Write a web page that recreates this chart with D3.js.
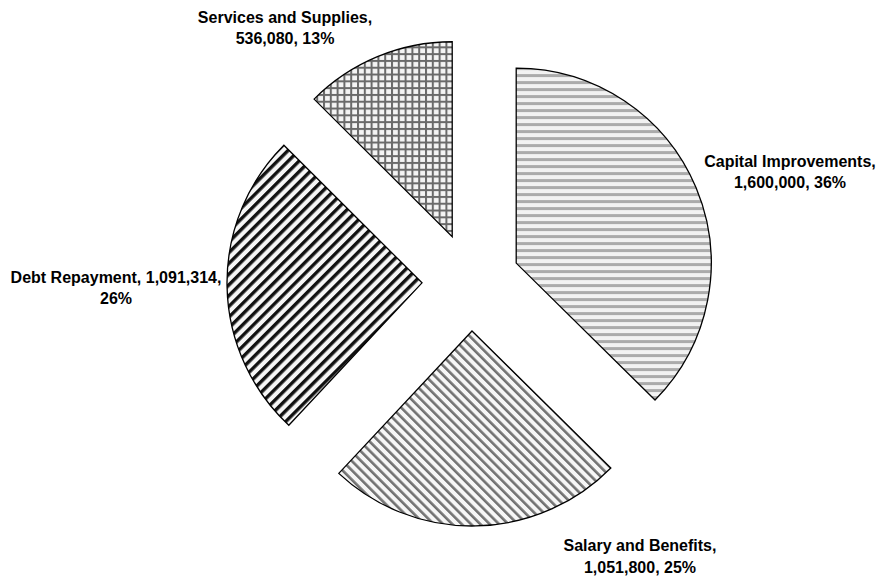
<!DOCTYPE html>
<html><head><meta charset="utf-8">
<script src="https://cdn.jsdelivr.net/npm/d3@7"></script>
<style>html,body{margin:0;padding:0;background:#fff;}svg{display:block;}</style>
</head><body>
<svg id="chart" width="876" height="578"></svg>
<script>
const categories = ["Capital Improvements", "Salary and Benefits", "Debt Repayment", "Services and Supplies"];
const values = [1600000, 1051800, 1091314, 536080];
const percentLabels = ["36%", "25%", "26%", "13%"];
const labelLines = [
  ["Capital Improvements,", "1,600,000, 36%"],
  ["Salary and Benefits,", "1,051,800, 25%"],
  ["Debt Repayment, 1,091,314,", "26%"],
  ["Services and Supplies,", "536,080, 13%"]
];
const patternIds = ["pHoriz", "pDiagGray", "pDiagBlack", "pGrid"];
const labelPos = [[790, 166.5], [640, 551], [116, 282.5], [285, 22.5]];

const svg = d3.select("#chart");
const defs = svg.append("defs");

// horizontal light gray stripes
let p = defs.append("pattern").attr("id","pHoriz").attr("patternUnits","userSpaceOnUse").attr("width",7).attr("height",7);
p.append("rect").attr("width",7).attr("height",7).attr("fill","#f2f2f2");
p.append("rect").attr("y",0).attr("width",7).attr("height",3).attr("fill","#ababab");

// diagonal gray stripes "\"
p = defs.append("pattern").attr("id","pDiagGray").attr("patternUnits","userSpaceOnUse").attr("width",6.6).attr("height",6.6).attr("patternTransform","rotate(-45)");
p.append("rect").attr("width",6.6).attr("height",6.6).attr("fill","#f6f6f6");
p.append("rect").attr("x",0).attr("width",2.6).attr("height",6.6).attr("fill","#727272");

// diagonal black stripes "/"
p = defs.append("pattern").attr("id","pDiagBlack").attr("patternUnits","userSpaceOnUse").attr("width",7.6).attr("height",7.6).attr("patternTransform","rotate(45)");
p.append("rect").attr("width",7.6).attr("height",7.6).attr("fill","#f6f6f6");
p.append("rect").attr("x",0).attr("width",3.4).attr("height",7.6).attr("fill","#111");

// grid
p = defs.append("pattern").attr("id","pGrid").attr("patternUnits","userSpaceOnUse").attr("width",6.8).attr("height",6.8);
p.append("rect").attr("width",6.8).attr("height",6.8).attr("fill","#f4f4f4");
p.append("rect").attr("width",6.8).attr("height",2).attr("fill","#6a6a6a");
p.append("rect").attr("width",2).attr("height",6.8).attr("fill","#6a6a6a");

const cx = 471, cy = 282, R = 195, explode = 49;
const pie = d3.pie().sort(null).value(d => d).startAngle(0).endAngle(2*Math.PI);
const arcs = pie(values);
const arc = d3.arc().innerRadius(0).outerRadius(R);

const g = svg.append("g").attr("transform", `translate(${cx},${cy})`);
g.selectAll("path").data(arcs).join("path")
  .attr("transform", d => {
    const m = (d.startAngle + d.endAngle)/2;
    return `translate(${explode*Math.sin(m)},${-explode*Math.cos(m)})`;
  })
  .attr("d", arc)
  .attr("fill", (d,i) => `url(#${patternIds[i]})`)
  .attr("stroke", "#000")
  .attr("stroke-width", 1.3)
  .attr("stroke-linejoin","miter");

const lab = svg.append("g").attr("font-family","'Liberation Sans', Arial, sans-serif").attr("font-weight","bold").attr("font-size","16px").attr("fill","#000").attr("text-anchor","middle");
labelLines.forEach((lines, i) => {
  const t = lab.append("text").attr("x", labelPos[i][0]).attr("y", labelPos[i][1]);
  lines.forEach((ln, j) => {
    t.append("tspan").attr("x", labelPos[i][0]).attr("dy", j === 0 ? 0 : 21.5).text(ln);
  });
});
</script>
</body></html>
